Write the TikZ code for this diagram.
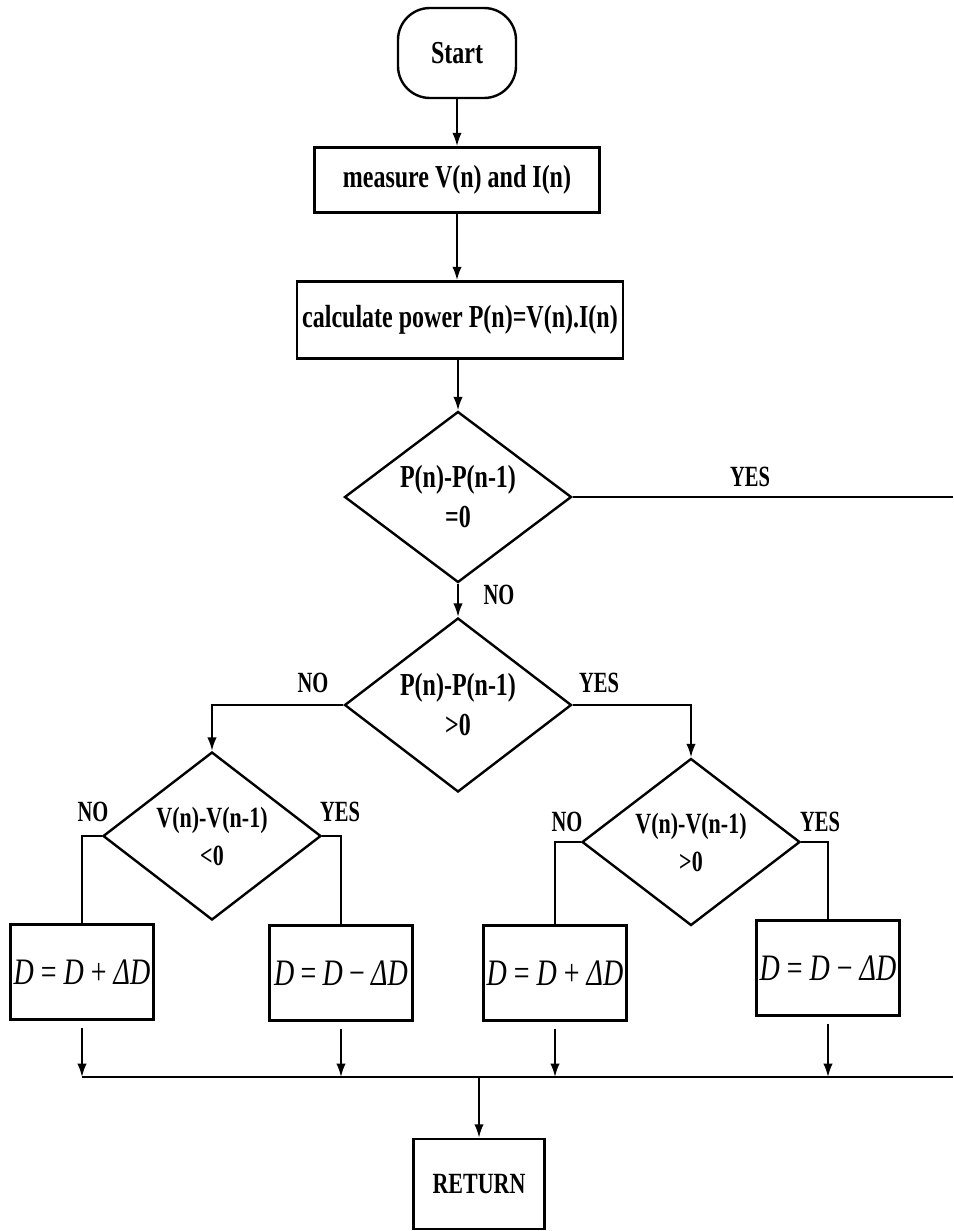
\documentclass[tikz,border=0pt]{standalone}
\usepackage{fontspec}
\setmainfont{Liberation Serif}[FakeStretch=0.75]
\newfontfamily\lblfont{Liberation Serif}[FakeStretch=0.7]
\newfontfamily\eqfont{Liberation Serif}[FakeStretch=0.75]
\usetikzlibrary{shapes.geometric,arrows.meta}
\begin{document}
\begin{tikzpicture}[x=0.75pt,y=-0.75pt,
  conn/.style={line width=1.4pt},
  arr/.style={-{Latex[length=10pt,width=7pt]}},
  term/.style={draw,line width=1.8pt,rounded corners=24pt,inner sep=0pt,font=\bfseries\fontsize{24}{26}\selectfont},
  box/.style={draw,line width=2pt,inner sep=0pt,font=\bfseries\fontsize{24}{26}\selectfont},
  retbox/.style={draw,line width=2pt,inner sep=0pt,font=\bfseries\fontsize{22}{24}\selectfont},
  dec/.style={draw,diamond,aspect=1.33,line width=1.8pt,inner sep=0pt,align=center,font=\bfseries\fontsize{24}{30}\selectfont},
  decs/.style={draw,diamond,aspect=1.3,line width=1.8pt,inner sep=0pt,align=center,font=\bfseries\fontsize{22}{28.5}\selectfont},
  eqbox/.style={draw,line width=1.8pt,inner sep=0pt,minimum width=107.5pt,minimum height=71.5pt,font=\eqfont\fontsize{28}{30}\selectfont},
  lbl/.style={inner sep=0pt,font=\lblfont\bfseries\fontsize{22}{24}\selectfont}
]
\fill[white] (0,0) rectangle (953,1231);
\useasboundingbox (0,0) rectangle (953,1231);

\node[term,minimum width=88.5pt,minimum height=67.5pt] (start) at (457,53) {Start};
\node[box,minimum width=213.75pt,minimum height=48.75pt] (meas) at (457,180) {measure V(n) and I(n)};
\node[box,minimum width=244.5pt,minimum height=57.75pt] (calc) at (460,320) {calculate power P(n)=V(n).I(n)};
\node[dec,minimum width=170.25pt,minimum height=128.25pt] (d1) at (458,497) {P(n)-P(n-1)\\=0};
\node[dec,minimum width=170.25pt,minimum height=130.5pt] (d2) at (458,705) {P(n)-P(n-1)\\>0};
\node[decs,minimum width=163.5pt,minimum height=126pt] (d3) at (212,836) {V(n)-V(n-1)\\<0};
\node[decs,minimum width=163.5pt,minimum height=125.25pt] (d4) at (691,842) {V(n)-V(n-1)\\>0};

\node[eqbox] (ba) at (82,972) {\textit{D} = \textit{D} + \textit{ΔD}};
\node[eqbox] (bb) at (341,973) {\textit{D}\,=\,\textit{D}\,−\,\textit{ΔD}};
\node[eqbox] (bc) at (555,973) {\textit{D} = \textit{D} + \textit{ΔD}};
\node[eqbox] (bd) at (828,968) {\textit{D} = \textit{D} − \textit{ΔD}};
\node[retbox,minimum width=98.25pt,minimum height=67.5pt] (ret) at (479,1184) {RETURN};

% labels
\node[lbl] (lyes1) at (750,477) {YES};
\node[lbl] (lno1) at (499,595) {NO};
\node[lbl] (lno2) at (313,683) {NO};
\node[lbl] (lyes2) at (599,683) {YES};
\node[lbl] (lno3) at (93,812) {NO};
\node[lbl] (lyes3) at (340,812) {YES};
\node[lbl] (lno4) at (567,822) {NO};
\node[lbl] (lyes4) at (820,822) {YES};

% connectors
\coordinate (yesend) at (953,497);
\coordinate (busl) at (82,1077);
\coordinate (busr) at (953,1077);

\draw[conn,arr] (start.south) -- (meas.north);
\draw[conn,arr] (meas.south) -- (meas.south |- calc.north);
\draw[conn,arr] (calc.south -| d1.north) -- (d1.north);
\draw[conn] (d1.east) -- (yesend);
\draw[conn,arr] (d1.south) -- (d2.north);
\draw[conn,arr] (d2.west) -| (d3.north);
\draw[conn,arr] (d2.east) -| (d4.north);
\draw[conn] (d3.west) -| (ba.north);
\draw[conn] (d3.east) -| (bb.north);
\draw[conn] (d4.west) -| (bc.north);
\draw[conn] (d4.east) -| (bd.north);
\draw[conn] (busl) -- (busr);
\draw[conn,arr,shorten <=5pt] (ba.south) -- (ba.south |- busl);
\draw[conn,arr,shorten <=5pt] (bb.south) -- (bb.south |- busl);
\draw[conn,arr,shorten <=5pt] (bc.south) -- (bc.south |- busl);
\draw[conn,arr,shorten <=5pt] (bd.south) -- (bd.south |- busl);
\draw[conn,arr] (ret.north |- busl) -- (ret.north);
\end{tikzpicture}
\end{document}
